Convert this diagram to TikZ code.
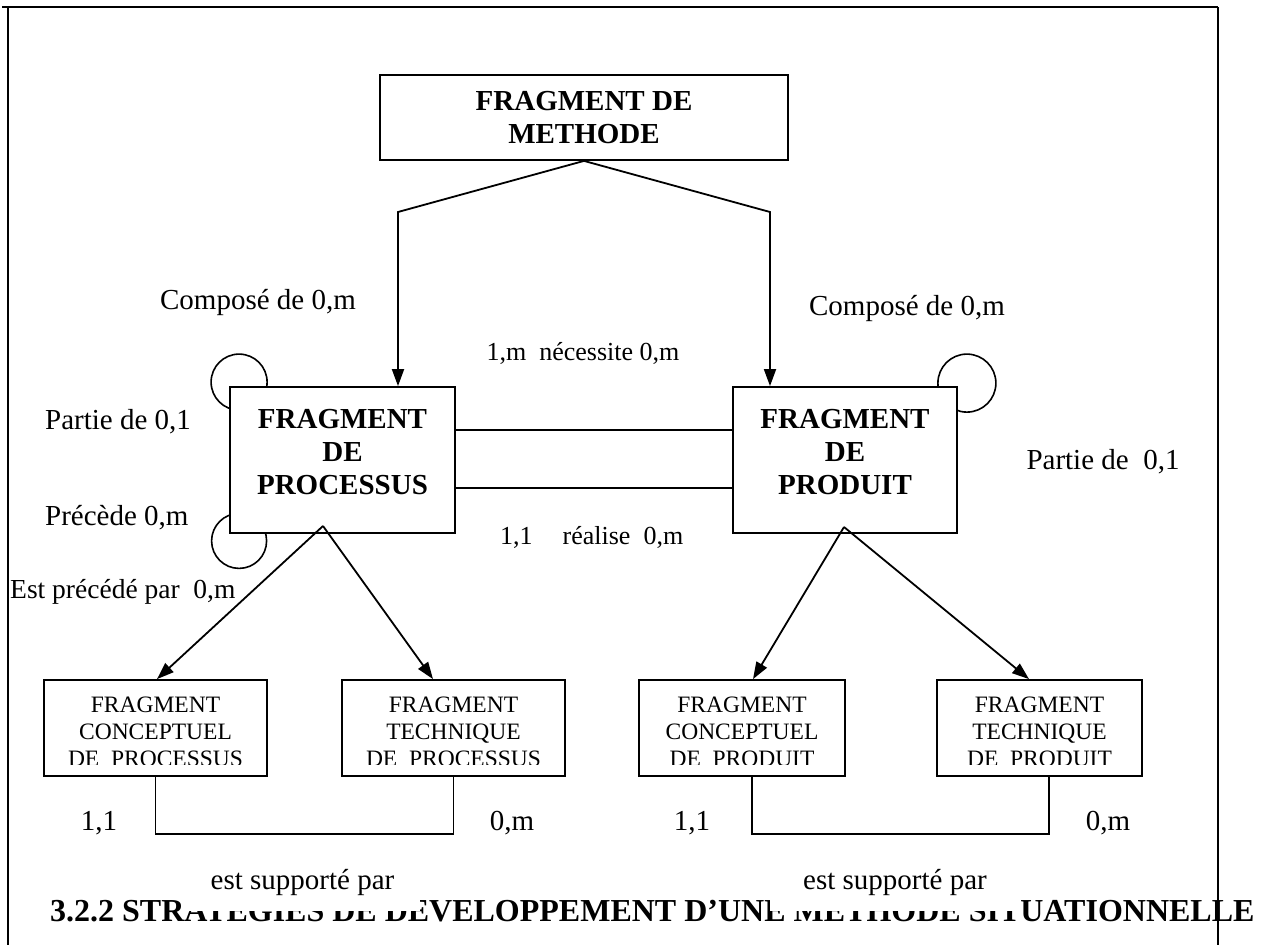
\documentclass[tikz,border=0pt]{standalone}
\usepackage{fontspec}
\setmainfont{Liberation Serif}
\usetikzlibrary{arrows.meta}
\pgfdeclarelayer{back}
\pgfsetlayers{back,main}
\begin{document}
\begin{tikzpicture}[x=1pt,y=-1pt,
  mainbox/.style={draw, line width=1.8pt, fill=white, align=center, inner sep=0pt,
    font=\fontsize{29}{33}\selectfont\bfseries},
  subbox/.style={draw, line width=1.8pt, fill=white, align=center, inner sep=0pt,
    minimum height=96pt, text height=78pt,
    font=\fontsize{23.5}{27}\selectfont},
  lbl/.style={inner sep=0pt, font=\fontsize{29}{33}\selectfont},
  mlbl/.style={inner sep=0pt, font=\fontsize{26}{30}\selectfont},
  arr/.style={line width=1.8pt, -{Triangle[length=17pt,width=12pt]}},
  link/.style={line width=1.6pt},
  loopline/.style={line width=1.6pt},
  frame/.style={line width=2pt}]
\useasboundingbox (0,0) rectangle (1272,945);

% page frame
\draw[frame] (2,7) -- (1218,7);
\draw[frame] (8,7) -- (8,945);

% main entities
\node[mainbox, minimum width=408pt, minimum height=85pt] (meth) at (584,117.5) {FRAGMENT DE\\METHODE};
\node[mainbox, minimum width=225pt, minimum height=146pt, text depth=17pt] (proc) at (342.5,460) {FRAGMENT\\DE\\PROCESSUS};
\node[mainbox, minimum width=224pt, minimum height=146pt, text depth=17pt] (prod) at (845,460) {FRAGMENT\\DE\\PRODUIT};

% sub-fragments
\node[subbox, minimum width=223pt] (cp) at (155.5,728) {FRAGMENT\\CONCEPTUEL\\DE\ \ PROCESSUS};
\node[subbox, minimum width=223pt] (tp) at (453.5,728) {FRAGMENT\\TECHNIQUE\\DE\ \ PROCESSUS};
\node[subbox, minimum width=206pt] (cd) at (742,728) {FRAGMENT\\CONCEPTUEL\\DE\ \ PRODUIT};
\node[subbox, minimum width=205pt] (td) at (1039.5,728) {FRAGMENT\\TECHNIQUE\\DE\ \ PRODUIT};

% the last text line of each sub-fragment is cut by its text area
\foreach \b in {cp,tp,cd,td}
  \fill[white] ([xshift=2pt,yshift=3pt]\b.south west) rectangle ([xshift=-2pt,yshift=12pt]\b.south east);

% reflexive associations
\begin{pgfonlayer}{back}
  \draw[loopline] ([xshift=10pt,yshift=4pt]proc.north west) circle[radius=28pt];
  \draw[loopline] ([xshift=10pt,yshift=-7pt]proc.south west) circle[radius=27.5pt];
  \draw[loopline] ([xshift=9pt,yshift=3pt]prod.north east) circle[radius=29pt];
\end{pgfonlayer}

% composition arrows
\coordinate (kl) at (398,212);
\coordinate (kr) at (770,212);
\draw[arr] (meth.south) -- (kl) -- ([xshift=55.5pt]proc.north);
\draw[arr] (meth.south) -- (kr) -- ([xshift=-75pt]prod.north);

% associations between process and product
\draw[link] ([yshift=30pt]proc.east) -- ([yshift=30pt]prod.west);
\draw[link] ([yshift=-28pt]proc.east) -- ([yshift=-28pt]prod.west);

% specialisation arrows
\coordinate (pa) at (323,526);
\coordinate (da) at (844,527);
\draw[arr] (pa) -- ([xshift=1.5pt]cp.north);
\draw[arr] (pa) -- ([xshift=-20.5pt]tp.north);
\draw[arr] (da) -- ([xshift=11pt]cd.north);
\draw[arr] (da) -- ([xshift=-10.5pt]td.north);

% support links
\draw[link] (cp.south) -- ++(0,57) -| (tp.south);
\draw[link] ([xshift=10pt]cd.south) -- ++(0,57) -| ([xshift=9.5pt]td.south);

% labels
\node[lbl, anchor=base] (c1) at (258,309) {Composé de 0,m};
\node[lbl, anchor=base] (c2) at (907,315) {Composé de 0,m};
\node[lbl, anchor=base west] (p1) at (45,429) {Partie de 0,1};
\node[lbl, anchor=base west] (pr1) at (45,525) {Précède 0,m};
\node[lbl, anchor=base west, font=\fontsize{27.5}{32}\selectfont] (ep1) at (10,598) {Est précédé par\ \ 0,m};
\node[lbl, anchor=base] (p2) at (1103,469) {Partie de\ \ 0,1};
\node[mlbl, anchor=base] (nec) at (583,360) {1,m\ \ nécessite 0,m};
\node[mlbl, anchor=base west] (rea) at (500,544) {1,1\hspace{30pt}réalise\ \ 0,m};
\node[lbl, anchor=base] (k1) at (99,830) {1,1};
\node[lbl, anchor=base] (k2) at (512,830) {0,m};
\node[lbl, anchor=base] (k3) at (692,830) {1,1};
\node[lbl, anchor=base] (k4) at (1108,830) {0,m};

% section heading partly hidden by the link labels
\node[anchor=base west, inner sep=0pt, font=\fontsize{32}{36}\selectfont\bfseries] (titre) at (50,921)
  {3.2.2 STRATEGIES DE DEVELOPPEMENT D’UNE METHODE SITUATIONNELLE};
\node[lbl, fill=white, minimum width=235pt, minimum height=58pt] (s1) at (302.5,882) {est supporté par};
\node[lbl, fill=white, minimum width=250pt, minimum height=58pt] (s2) at (895,882) {est supporté par};

\draw[frame] (1218,7) -- (1218,945);
\end{tikzpicture}
\end{document}
